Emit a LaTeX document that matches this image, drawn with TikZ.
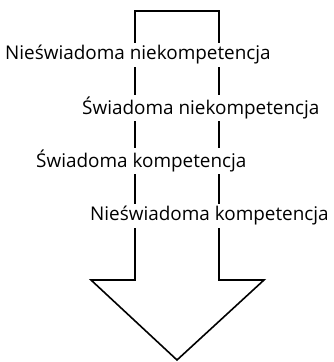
\documentclass[tikz,border=0pt]{standalone}
\usepackage{fontspec}
\setmainfont{Open Sans}
\usetikzlibrary{positioning}

\begin{document}
\begin{tikzpicture}[
    x=1pt, y=-1pt,
    every node/.style={fill=white, inner sep=2pt, font=\fontsize{18.9}{21}\selectfont},
    shape line/.style={draw, line width=1.6pt, line join=miter}
]
\useasboundingbox (0,0) rectangle (334,362);
% the arrow
\draw[shape line] (135,11) -- (219,11) -- (219,280) -- (264,280) -- (177,360)
    -- (91,280) -- (135,280) -- cycle;
% the stages
\node[anchor=west] (unconsciousincomp) at (3,55) {Nieświadoma niekompetencja};
\node[anchor=west] (consciousincomp) at (80,108) {Świadoma niekompetencja};
\node[anchor=west] (consciouscomp) at (34,161) {Świadoma kompetencja};
\node[anchor=west] (unconsciouscomp) at (88,216) {Nieświadoma kompetencja};
\end{tikzpicture}
\end{document}
